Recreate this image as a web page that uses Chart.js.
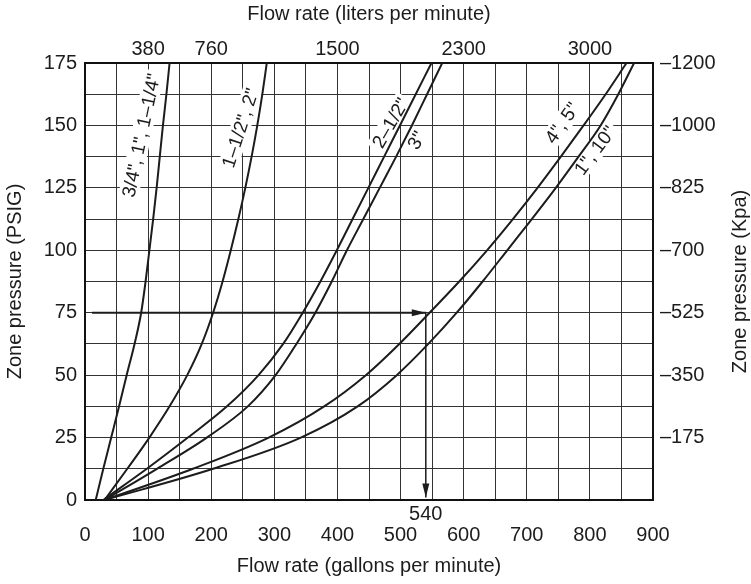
<!DOCTYPE html>
<html>
<head>
<meta charset="utf-8">
<script src="https://cdn.jsdelivr.net/npm/chart.js@4.4.1/dist/chart.umd.min.js"></script>
<style>
  body { margin: 0; background: #fff; }
  canvas { display: block; }
</style>
</head>
<body>
<canvas id="myChart" width="751" height="584"></canvas>
<script>
// zone pressure steps (psig), shared by every curve
var psiSteps = [0, 12.5, 25, 37.5, 50, 62.5, 75, 87.5, 100, 112.5, 125, 137.5, 150, 162.5, 175];

// flow rate (gpm) at those pressures
var gpmSmall = [17, 29, 41.5, 54, 66, 78.5, 89, 96, 102, 108, 113.5, 118.5, 123.5, 129, 134];
var gpm112to2 = [31, 67, 102, 134, 162, 185, 203, 218, 231, 243, 254, 264, 273, 281, 288];
var gpm212 = [29, 98, 163, 225, 275, 314, 345, 373, 399, 424, 449, 474, 499, 524, 549];
var gpm3 = [31, 114, 193, 258, 302, 335, 365, 391, 415, 441, 467, 493, 518, 542, 566];
var gpm4to5 = [31, 171, 291, 379, 445, 498, 546, 593, 637, 678, 717, 754, 790, 825, 858];
var gpm1to10 = [31, 203, 342, 432, 494, 544, 589, 630, 669, 708, 746, 782, 817, 845, 870];

var curveNames = ['3/4", 1", 1–1/4"', '1–1/2", 2"', '2–1/2"', '3"', '4", 5"', '1", 10"'];
var curveGpm = [gpmSmall, gpm112to2, gpm212, gpm3, gpm4to5, gpm1to10];

// worked example: 75 psig read across to 540 gpm
var examplePsi = 75;
var exampleGpm = 540;
var exampleStartGpm = 11;

// tick labels
var kpaLabels = ['', '–175', '–350', '–525', '–700', '–825', '–1000', '–1200'];
var topGpm = [100, 200, 400, 600, 800];
var topLpm = ['380', '760', '1500', '2300', '3000'];

// where the size names sit along the curves (gpm, psig, degrees)
var curveLabelSpots = [
  { gpm: 89, psi: 146, angle: -78 },
  { gpm: 246, psi: 149, angle: -72 },
  { gpm: 484, psi: 151, angle: -60 },
  { gpm: 525, psi: 144, angle: -60 },
  { gpm: 756, psi: 151, angle: -55 },
  { gpm: 808, psi: 140, angle: -53 }
];

var FONT = '"Liberation Sans", Arial, sans-serif';
var INK = '#1c1c1c';

Chart.defaults.font.family = FONT;
Chart.defaults.font.size = 20;
Chart.defaults.color = INK;

var datasets = curveGpm.map(function (arr, i) {
  return {
    label: curveNames[i],
    data: arr.map(function (g, k) { return { x: g, y: psiSteps[k] }; }),
    borderColor: INK,
    borderWidth: 2,
    pointRadius: 0,
    showLine: true,
    fill: false,
    cubicInterpolationMode: 'monotone'
  };
});

datasets.push({
  label: 'across',
  data: [{ x: exampleStartGpm, y: examplePsi }, { x: exampleGpm, y: examplePsi }],
  borderColor: INK, borderWidth: 2, pointRadius: 0, showLine: true, arrow: true
});
datasets.push({
  label: 'down',
  data: [{ x: exampleGpm, y: examplePsi }, { x: exampleGpm, y: 1 }],
  borderColor: INK, borderWidth: 1.5, pointRadius: 0, showLine: true, arrow: true
});

var extras = {
  id: 'extras',
  beforeDatasetsDraw: function (chart) {
    var ctx = chart.ctx, xs = chart.scales.x, ys = chart.scales.y;
    ctx.save();
    ctx.font = '19px ' + FONT;
    ctx.textAlign = 'center';
    ctx.textBaseline = 'middle';
    curveNames.forEach(function (name, i) {
      var s = curveLabelSpots[i];
      var w = ctx.measureText(name).width;
      ctx.save();
      ctx.translate(xs.getPixelForValue(s.gpm), ys.getPixelForValue(s.psi));
      ctx.rotate(s.angle * Math.PI / 180);
      ctx.fillStyle = '#fff';
      ctx.fillRect(-w / 2 - 3, -10, w + 6, 20);
      ctx.fillStyle = INK;
      ctx.fillText(name, 0, 1);
      ctx.restore();
    });
    ctx.restore();
  },
  afterDatasetsDraw: function (chart) {
    var ctx = chart.ctx;
    ctx.save();
    ctx.fillStyle = INK;
    chart.data.datasets.forEach(function (ds, i) {
      if (!ds.arrow) return;
      var pts = chart.getDatasetMeta(i).data;
      var a = pts[pts.length - 2], b = pts[pts.length - 1];
      var ang = Math.atan2(b.y - a.y, b.x - a.x);
      ctx.save();
      ctx.translate(b.x, b.y);
      ctx.rotate(ang);
      ctx.beginPath();
      ctx.moveTo(0, 0);
      ctx.lineTo(-14, -3.5);
      ctx.lineTo(-14, 3.5);
      ctx.closePath();
      ctx.fill();
      ctx.restore();
    });
    ctx.font = '20px ' + FONT;
    ctx.textAlign = 'center';
    ctx.textBaseline = 'middle';
    ctx.fillText(String(exampleGpm), chart.scales.x.getPixelForValue(exampleGpm), chart.scales.y.bottom + 14);
    ctx.restore();
  },
  afterDraw: function (chart) {
    // right title reads bottom to top like the left one
    var ctx = chart.ctx, area = chart.chartArea;
    ctx.save();
    ctx.font = '20px ' + FONT;
    ctx.fillStyle = INK;
    ctx.textAlign = 'center';
    ctx.textBaseline = 'middle';
    ctx.translate(chart.width - 11, (area.top + area.bottom) / 2);
    ctx.rotate(-Math.PI / 2);
    ctx.fillText('Zone pressure (Kpa)', 0, 0);
    ctx.restore();
  }
};

var ctx = document.getElementById('myChart').getContext('2d');
var myChart = new Chart(ctx, {
  type: 'scatter',
  data: { datasets: datasets },
  plugins: [extras],
  options: {
    responsive: false,
    animation: false,
    layout: { padding: 0 },
    plugins: {
      legend: { display: false },
      tooltip: { enabled: false }
    },
    scales: {
      x: {
        type: 'linear', position: 'bottom', min: 0, max: 900,
        ticks: {
          stepSize: 50, padding: 23, autoSkip: false, maxRotation: 0,
          callback: function (v) { return v % 100 === 0 ? String(v) : ''; }
        },
        grid: { color: '#333', lineWidth: 1, drawTicks: false },
        border: { color: '#111', width: 2 },
        title: { display: true, text: 'Flow rate (gallons per minute)', padding: { top: 0, bottom: 6 } },
        afterFit: function (s) { s.height = 84; }
      },
      x2: {
        type: 'linear', position: 'top', min: 0, max: 900,
        afterBuildTicks: function (s) { s.ticks = topGpm.map(function (v) { return { value: v }; }); },
        ticks: {
          padding: 2, autoSkip: false, maxRotation: 0,
          callback: function (v) { return topLpm[topGpm.indexOf(v)]; }
        },
        grid: { display: false, drawTicks: false },
        border: { color: '#111', width: 2 },
        title: { display: true, text: 'Flow rate (liters per minute)', padding: { top: 2, bottom: 0 } },
        afterFit: function (s) { s.height = 63; }
      },
      y: {
        type: 'linear', position: 'left', min: 0, max: 175,
        ticks: {
          stepSize: 12.5, padding: 8, autoSkip: false,
          callback: function (v) { return v % 25 === 0 ? String(v) : ''; }
        },
        grid: { color: '#333', lineWidth: 1, drawTicks: false },
        border: { color: '#111', width: 2 },
        title: { display: true, text: 'Zone pressure (PSIG)', padding: { top: 3, bottom: 0 } },
        afterFit: function (s) { s.width = 85; }
      },
      y2: {
        type: 'linear', position: 'right', min: 0, max: 175,
        ticks: {
          stepSize: 25, padding: 7, autoSkip: false,
          callback: function (v) { return kpaLabels[Math.round(v / 25)]; }
        },
        grid: { display: false, drawTicks: false },
        border: { color: '#111', width: 2 },
        afterFit: function (s) { s.width = 98; }
      }
    }
  }
});
</script>
</body>
</html>
